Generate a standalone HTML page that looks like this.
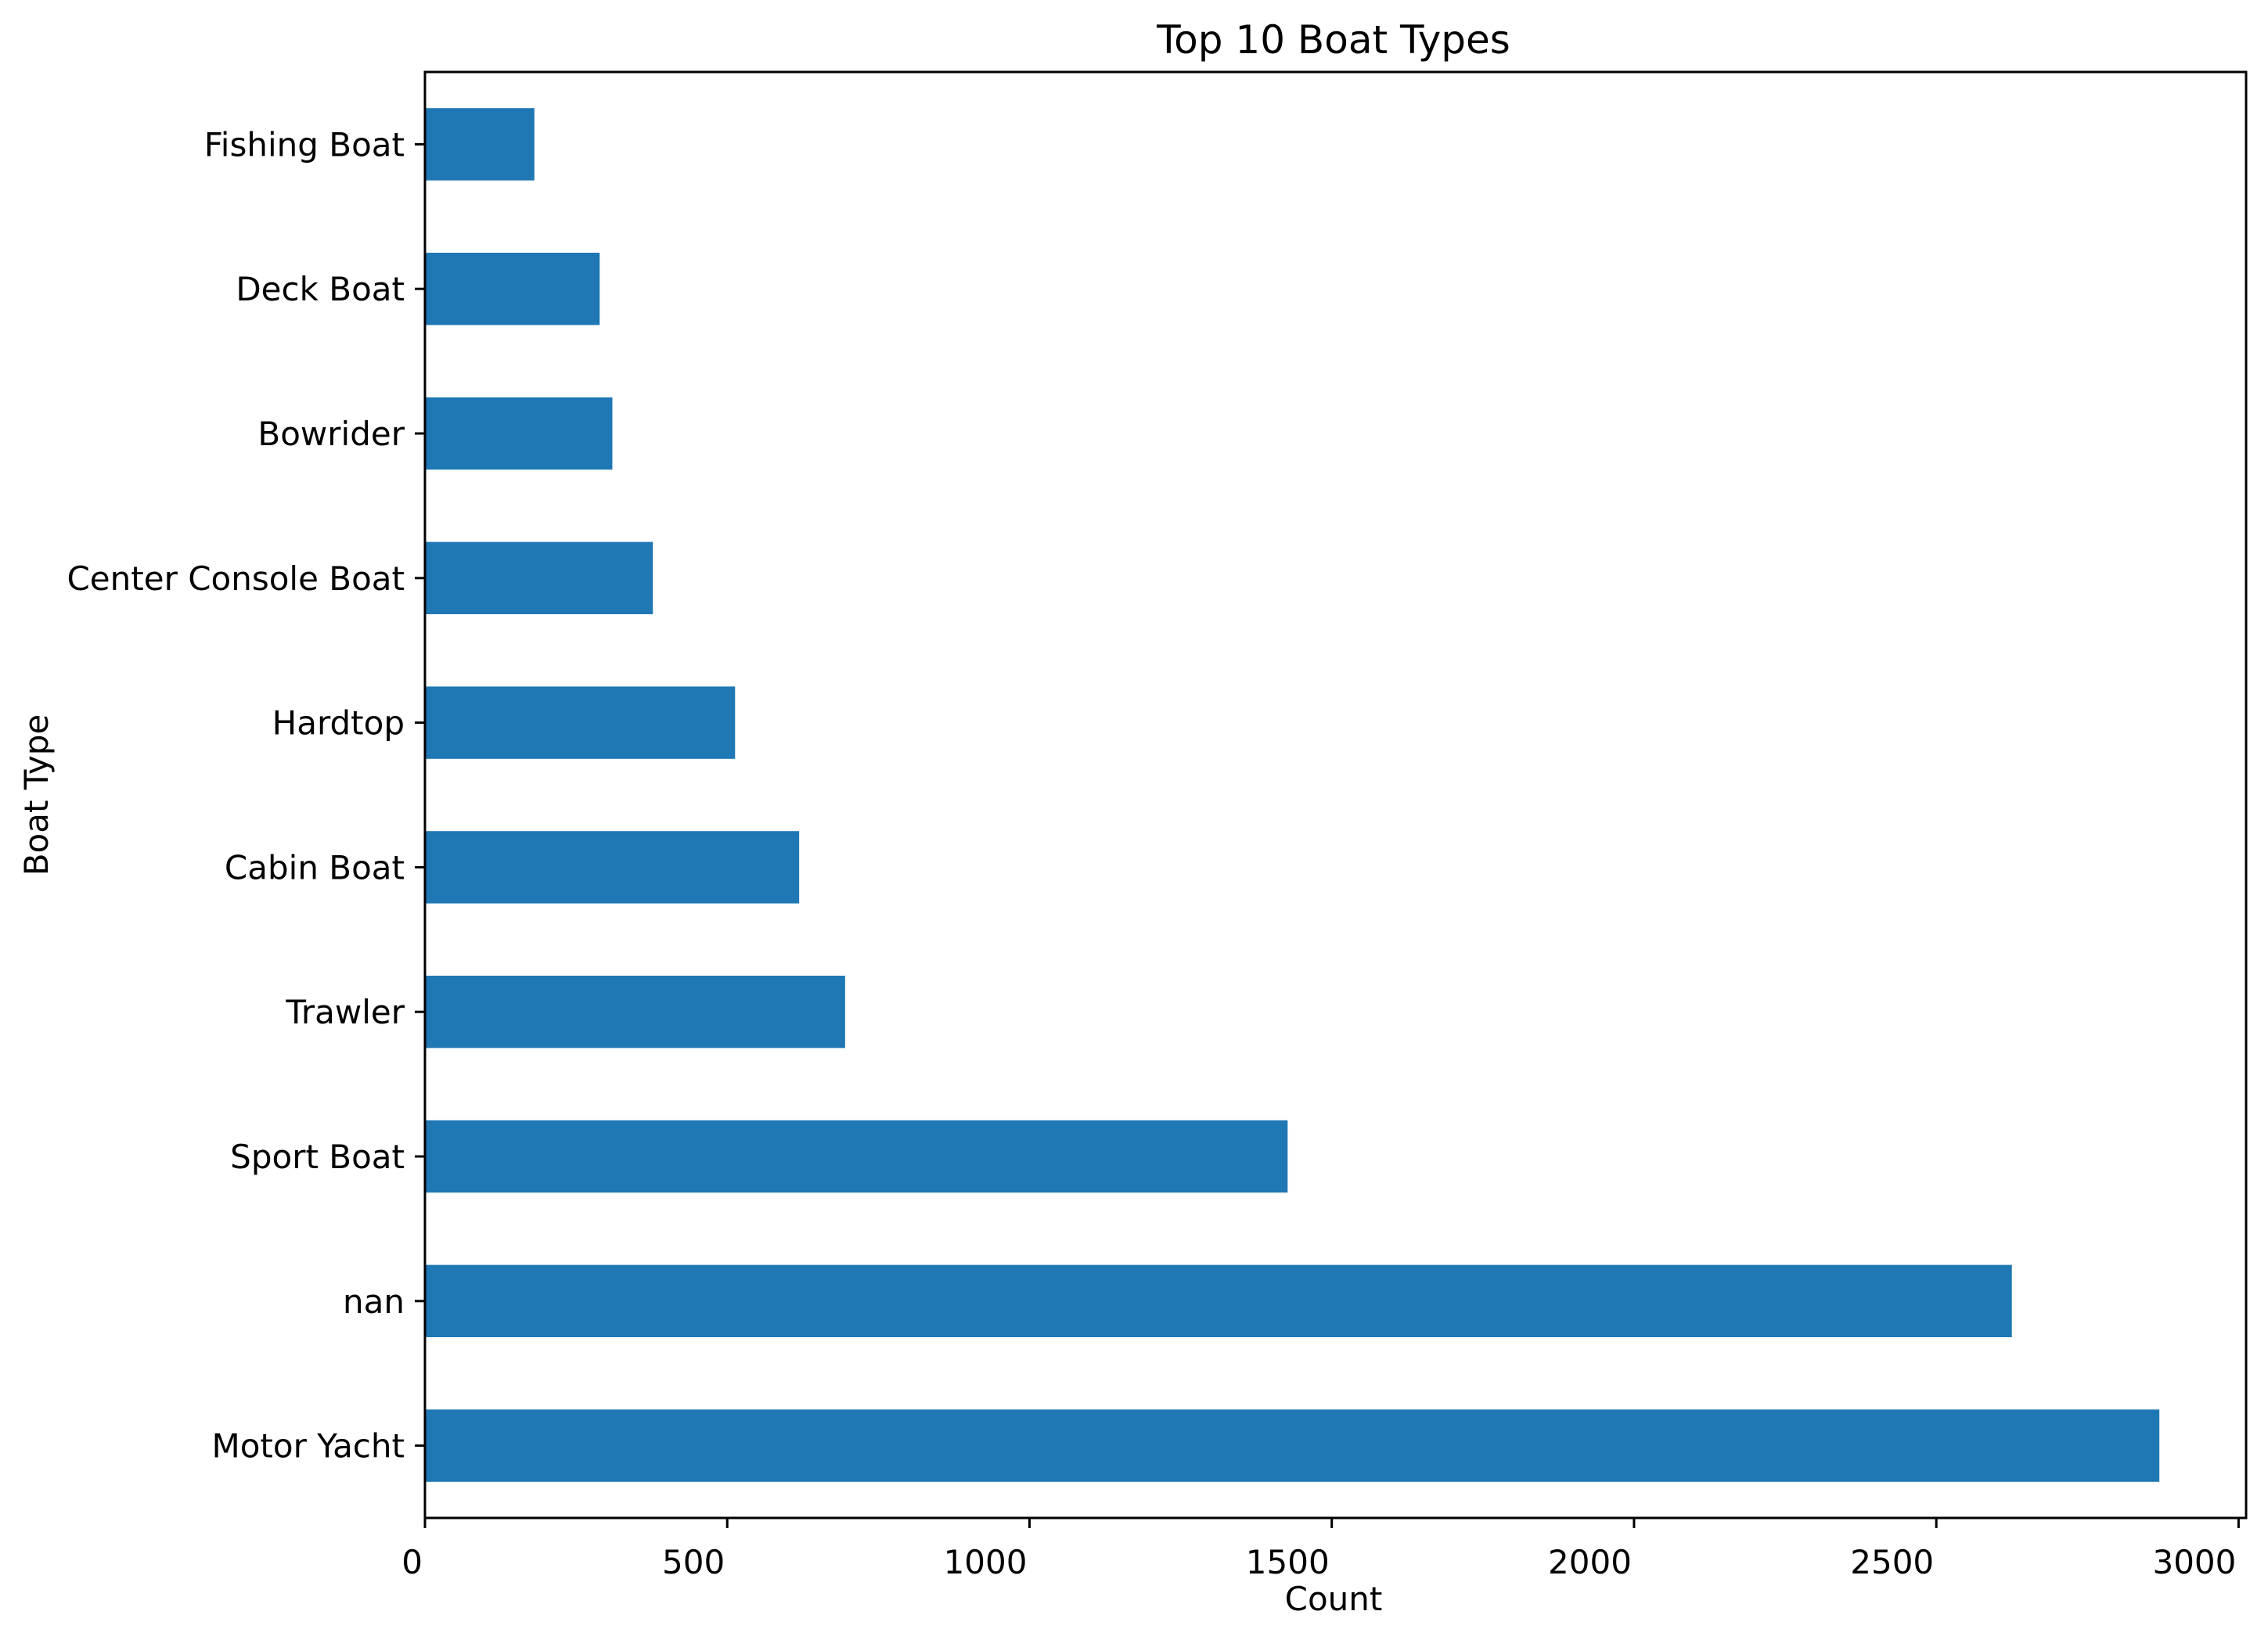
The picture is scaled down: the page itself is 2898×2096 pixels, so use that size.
<!DOCTYPE html>
<html><head><meta charset="utf-8"><style>
html,body{margin:0;padding:0;background:#fff;}
svg{display:block;font-family:"DejaVu Sans","Liberation Sans",sans-serif;}
</style></head><body>
<svg id="chart" width="2898" height="2096" viewBox="0 0 2898 2096" xmlns="http://www.w3.org/2000/svg">
<rect width="2898" height="2096" fill="#fff"/>
<text x="1704" y="68" font-size="50" text-anchor="middle">Top 10 Boat Types</text>
<text x="1704" y="2058" font-size="42" text-anchor="middle">Count</text>
<text x="0" y="0" font-size="42" text-anchor="middle" transform="translate(61,1016) rotate(-90)">Boat Type</text>
<g id="bars"></g>
<g id="axes"></g>
</svg>
<script>
const categories = ["Motor Yacht","nan","Sport Boat","Trawler","Cabin Boat","Hardtop","Center Console Boat","Bowrider","Deck Boat","Fishing Boat"];
const counts = [2869, 2625, 1427, 695, 619, 513, 377, 310, 289, 181];
const xTicks = [0, 500, 1000, 1500, 2000, 2500, 3000];

const L=543, R=2870, T=92, B=1940;
const xMax = Math.max(...counts)*1.05;
const xs = v => L + v/xMax*(R-L);
const n = categories.length;
const slot = (B-T)/n;
const yc = i => B - slot*(i+0.5);
const NS="http://www.w3.org/2000/svg";
const bars=document.getElementById('bars'), axes=document.getElementById('axes');
function mk(tag, attrs, parent){const e=document.createElementNS(NS,tag);for(const k in attrs)e.setAttribute(k,attrs[k]);parent.appendChild(e);return e;}

categories.forEach((c,i)=>{
  const r=mk('rect',{x:L,y:yc(i)-slot*0.25,width:xs(counts[i])-L,height:slot*0.5,fill:'#1f77b4'},bars);
  
  
  const t=mk('line',{x1:L-13,x2:L,y1:yc(i),y2:yc(i),stroke:'#000','stroke-width':3},axes);
  
  
  const lb=mk('text',{x:L-26,y:yc(i)+15,'font-size':42,'text-anchor':'end'},axes);
  lb.textContent=c;
  
  
});
xTicks.forEach(v=>{
  const t=mk('line',{x1:xs(v),x2:xs(v),y1:B,y2:B+13,stroke:'#000','stroke-width':3},axes);
  
  
  const lb=mk('text',{x:xs(v)-3,y:B+71,'font-size':42,'text-anchor':'end'},axes);
  lb.textContent=String(v);
  
  
});
const frame=mk('rect',{x:L,y:T,width:R-L,height:B-T,fill:'none',stroke:'#000','stroke-width':3},axes);


</script>
</body></html>
